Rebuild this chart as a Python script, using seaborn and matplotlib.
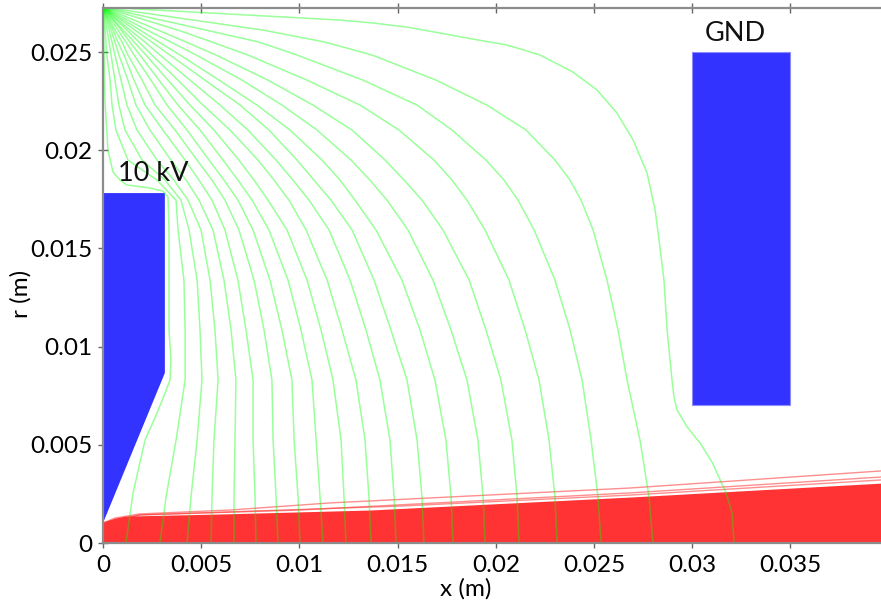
import numpy as np
import pandas as pd
import matplotlib
matplotlib.use('Agg')
import matplotlib.pyplot as plt
import seaborn as sns

# all coordinates below in mm
r_levels = [27.29, 26.12, 25.51, 24.85, 23.57, 22.30, 21.03, 19.50, 18.48, 17.46, 15.94, 13.39, 10.85, 8.30, 5.24, 2.34, 0.0]

field_02 = [0, .10, .15, .20, .36, .46, .66, 1.27, 2.75, 3.72, 3.82, 4.12, 4.18, 4.18, 3.72, 3.21, 2.90]
field_03 = [0, .20, .31, .41, .61, .81, 1.12, 1.99, 3.16, 3.97, 4.38, 4.79, 4.94, 5.04, 4.79, 4.48, 4.28]
field_04 = [0, .31, .46, .61, .92, 1.22, 1.73, 2.75, 3.61, 4.33, 4.99, 5.45, 5.70, 5.86, 5.65, 5.55, 5.50]
field_05 = [0, .41, .61, .81, 1.27, 1.68, 2.39, 3.46, 4.23, 4.89, 5.60, 6.16, 6.52, 6.77, 6.72, 6.67, 6.67]
field_06 = [0, .51, .76, 1.07, 1.58, 2.14, 3.05, 4.18, 4.89, 5.55, 6.21, 6.87, 7.28, 7.64, 7.64, 7.74, 7.79]
field_07 = [0, .61, .97, 1.27, 1.99, 2.65, 3.67, 4.79, 5.55, 6.21, 6.92, 7.69, 8.20, 8.60, 8.66, 8.81, 8.91]
field_08 = [0, .76, 1.17, 1.58, 2.44, 3.26, 4.28, 5.40, 6.16, 6.87, 7.64, 8.50, 9.11, 9.62, 9.73, 9.93, 10.03]
field_09 = [0, .92, 1.37, 1.88, 2.85, 3.82, 4.94, 6.11, 6.87, 7.59, 8.45, 9.42, 10.08, 10.64, 10.85, 11.05, 11.20]
field_10 = [0, 1.02, 1.58, 2.19, 3.31, 4.43, 5.65, 6.92, 7.69, 8.40, 9.37, 10.39, 11.10, 11.71, 12.12, 12.27, 12.37]
field_11 = [0, 1.22, 1.83, 2.49, 3.82, 5.09, 6.47, 7.89, 8.71, 9.47, 10.34, 11.41, 12.17, 12.88, 13.34, 13.54, 13.65]
field_12 = [0, 1.37, 2.14, 2.90, 4.43, 5.96, 7.38, 8.81, 9.67, 10.49, 11.51, 12.58, 13.39, 14.10, 14.61, 14.82, 14.92]
field_13 = [0, 1.63, 2.49, 3.41, 5.19, 6.98, 8.45, 9.88, 10.74, 11.61, 12.68, 13.80, 14.66, 15.48, 15.99, 16.24, 16.34]
field_14 = [0, 1.88, 2.85, 3.92, 5.91, 7.84, 9.52, 11.15, 12.07, 12.83, 13.90, 15.22, 16.14, 16.90, 17.46, 17.72, 17.82]
field_15 = [0, 2.24, 3.46, 4.74, 7.08, 9.11, 10.90, 12.63, 13.59, 14.46, 15.53, 16.80, 17.72, 18.53, 19.09, 19.35, 19.45]
field_16 = [0, 2.80, 4.23, 5.75, 8.40, 10.69, 12.68, 14.36, 15.33, 16.24, 17.31, 18.64, 19.50, 20.26, 20.82, 21.08, 21.18]
field_17 = [0, 3.82, 5.55, 7.38, 10.39, 13.09, 15.07, 16.85, 17.77, 18.53, 19.45, 20.67, 21.49, 22.20, 22.71, 23.01, 23.12]
field_18 = [0, 5.24, 7.94, 9.88, 13.24, 15.99, 17.77, 19.50, 20.42, 21.13, 21.95, 23.01, 23.78, 24.39, 24.85, 25.20, 25.36]
field_19 = [0, 8.15, 11.30, 13.70, 16.96, 19.55, 21.54, 23.01, 23.78, 24.34, 24.95, 25.66, 26.22, 26.68, 27.34, 27.80, 28.00]

# first and last line bend too sharply for the shared levels
field_01_x = [0, .05, .10, .25, .51, .87, 1.22, 2.39, 3.05, 3.31, 3.36, 3.36, 3.36, 3.46, 3.41, 3.16, 2.75, 2.14, 1.53, 1.17]
field_01_r = [27.29, 25.10, 22.56, 20.01, 18.89, 18.48, 18.23, 18.08, 17.92, 17.62, 15.94, 13.39, 10.85, 9.32, 8.30, 7.64, 6.62, 5.24, 2.55, 0]
field_20_x = [0, 5.45, 12.07, 13.75, 15.48, 17.16, 18.84, 20.57, 22.25, 23.93, 25.15, 26.17, 26.99, 27.70, 28.11, 28.31, 28.56,
              28.72, 28.97, 29.07, 29.23, 29.74, 30.40, 31.01, 31.42, 31.72, 32.03, 32.13]
field_20_r = [27.29, 26.99, 26.63, 26.48, 26.27, 25.97, 25.66, 25.36, 24.85, 23.98, 23.07, 21.89, 20.52, 18.84, 16.96, 15.43, 13.39,
              10.85, 8.30, 7.43, 6.77, 5.91, 5.09, 4.12, 3.21, 2.55, 1.53, 0]

beam_x = [0, .25, .61, 1.12, 6.11, 13.59, 26.83, 39.61]
beam_r = [1.02, 1.15, 1.27, 1.37, 1.48, 1.68, 2.34, 3.05]
ray_a_x = [0, .61, 1.88, 6.47, 11.56, 26.83, 39.61]
ray_a_r = [1.02, 1.27, 1.48, 1.68, 2.04, 2.80, 3.67]
ray_b_x = [0, 1.88, 10.03, 26.83, 39.61]
ray_b_r = [1.02, 1.43, 1.68, 2.55, 3.36]
ray_c_x = [0, 1.88, 15.12, 26.83, 39.61]
ray_c_r = [1.02, 1.43, 1.88, 2.44, 3.21]

hv_x = [0, 3.15, 3.15, 0]
hv_r = [17.82, 17.82, 8.66, 1.02]
gnd_x = [30, 35, 35, 30]
gnd_r = [25, 25, 7.03, 7.03]

x_ticks = [0, 0.005, 0.01, 0.015, 0.02, 0.025, 0.03, 0.035]
r_ticks = [0, 0.005, 0.01, 0.015, 0.02, 0.025]
x_tick_labels = ['0', '0.005', '0.01', '0.015', '0.02', '0.025', '0.03', '0.035']
r_tick_labels = ['0', '0.005', '0.01', '0.015', '0.02', '0.025']


def long_table(lines):
    frames = []
    for i, (xs, rs) in enumerate(lines):
        frames.append(pd.DataFrame({'x': np.array(xs) / 1000, 'r': np.array(rs) / 1000, 'line': i}))
    return pd.concat(frames, ignore_index=True)


shared = [field_02, field_03, field_04, field_05, field_06, field_07, field_08, field_09, field_10,
          field_11, field_12, field_13, field_14, field_15, field_16, field_17, field_18, field_19]
field = long_table([(field_01_x, field_01_r)] + [(xs, r_levels) for xs in shared] + [(field_20_x, field_20_r)])
rays = long_table([(ray_a_x, ray_a_r), (ray_b_x, ray_b_r), (ray_c_x, ray_c_r)])

sns.set_style('white')
plt.rcParams['font.family'] = ['Lato', 'DejaVu Sans']

fig = plt.figure(figsize=(8.81, 6.05), dpi=100)
ax = fig.add_axes([103 / 881, 62 / 605, 778 / 881, 535.5 / 605])

red = '#ff3333'
blue = '#3333ff'
ax.fill_between(np.array(beam_x) / 1000, np.array(beam_r) / 1000, 0, color=red, lw=0, zorder=1)
sns.lineplot(data=rays, x='x', y='r', units='line', estimator=None, sort=False, color=red,
             alpha=0.55, lw=1, legend=False, ax=ax, zorder=2)
ax.fill(np.array(hv_x) / 1000, np.array(hv_r) / 1000, color=blue, lw=0, zorder=3)
ax.fill(np.array(gnd_x) / 1000, np.array(gnd_r) / 1000, facecolor=blue, edgecolor='#8c8cff', lw=0.8, zorder=3)
sns.lineplot(data=field, x='x', y='r', units='line', estimator=None, sort=False, color='#00ff00',
             alpha=0.4, lw=1.1, legend=False, ax=ax, zorder=4)

ax.text(0.00076, 0.01884, '10 kV', fontsize=19.5, color='#111111', va='center', ha='left', zorder=5)
ax.text(0.0322, 0.02597, 'GND', fontsize=19.5, color='#111111', va='center', ha='center', zorder=5)

ax.set_xlim(0, 0.03961)
ax.set_ylim(0, 0.02727)
ax.set_xticks(x_ticks)
ax.set_xticklabels(x_tick_labels)
ax.set_yticks(r_ticks)
ax.set_yticklabels(r_tick_labels)
ax.tick_params(axis='both', which='major', labelsize=17.5, direction='inout', length=7, width=1,
               color='#666666', labelcolor='black', bottom=True, left=True, top=True)
ax.tick_params(axis='x', pad=5)
ax.tick_params(axis='y', pad=4)
ax.set_xlabel('x (m)', fontsize=17.5, color='black')
ax.set_ylabel('r (m)', fontsize=17.5, color='black')
ax.xaxis.set_label_coords((466 - 103) / 778, -(578 - 543) / 535.5)
ax.yaxis.set_label_coords(-(103 - 32) / 778, (543 - 294) / 535.5)

for side in ['left', 'bottom', 'top']:
    ax.spines[side].set_color('#8c8c8c')
    ax.spines[side].set_linewidth(1.6)
    ax.spines[side].set_zorder(6)
ax.spines['right'].set_visible(False)

fig.savefig('out.png', dpi=100)
